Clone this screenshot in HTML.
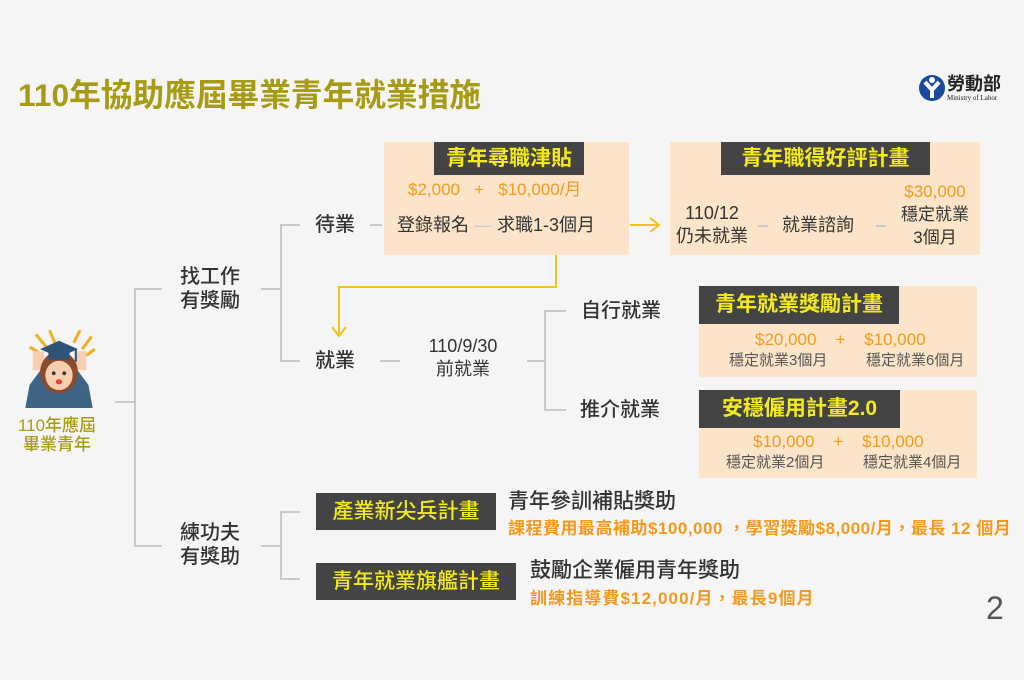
<!DOCTYPE html>
<html><head><meta charset="utf-8"><style>
*{margin:0;padding:0;box-sizing:border-box}
body{width:1024px;height:680px;background:#f5f5f5;position:relative;overflow:hidden;font-family:"Liberation Sans","Noto Sans CJK TC",sans-serif;color:#333}
.a{position:absolute;white-space:nowrap}
.t{font-size:20px;font-weight:500;line-height:24px}
.c{text-align:center}
.box{position:absolute;background:#fbe4c8}
.lab{position:absolute;background:#444;color:#f3ea1c;font-size:21px;font-weight:bold;text-align:center}
.o{color:#f39a1e}
.ln{position:absolute;background:#c9c9c9}
.s{font-size:15px;color:#555;line-height:18px}
</style></head><body>
<div class="a" style="left:18px;top:77px;font-size:31.7px;font-weight:bold;color:#a69b12;line-height:36px">110年協助應屆畢業青年就業措施</div>
<!-- logo -->
<svg class="a" style="left:918px;top:73px" width="28" height="30" viewBox="0 0 28 30"><circle cx="14" cy="15" r="13" fill="#1b4a9c"/><path d="M7 9 L14 17 L21 9" stroke="#fff" stroke-width="4" fill="none"/><rect x="12" y="16" width="4" height="9" fill="#fff"/><circle cx="14" cy="7" r="3" fill="#fff"/></svg>
<div class="a" style="left:947px;top:74px;font-size:18px;font-weight:bold;color:#222;line-height:20px">勞動部</div>
<div class="a" style="left:947px;top:94px;font-size:7px;color:#222;font-family:'Liberation Serif',serif">Ministry of Labor</div>
<!-- person -->
<svg class="a" style="left:14px;top:326px" width="90" height="82" viewBox="0 0 84 78">
<g stroke="#f2b02a" stroke-width="3"><line x1="20" y1="8" x2="30" y2="20"/><line x1="33" y1="4" x2="38" y2="16"/><line x1="14" y1="20" x2="24" y2="26"/><line x1="62" y1="4" x2="56" y2="16"/><line x1="73" y1="10" x2="64" y2="22"/><line x1="76" y1="22" x2="68" y2="28"/></g>
<path d="M14 56 L26 40 L58 40 L70 56 L74 78 L10 78 Z" fill="#3e6486"/>
<rect x="17" y="24" width="11" height="18" fill="#f7cfb0"/><rect x="57" y="24" width="11" height="18" fill="#f7cfb0"/>
<ellipse cx="42" cy="44" rx="18" ry="20" fill="#8a4b2e"/>
<ellipse cx="42" cy="47" rx="13" ry="14" fill="#f7cfb0"/>
<circle cx="37" cy="45" r="1.8" fill="#333"/><circle cx="47" cy="45" r="1.8" fill="#333"/><ellipse cx="42" cy="53" rx="3" ry="2.5" fill="#e4453b"/>
<path d="M24 22 L42 14 L60 22 L42 30 Z" fill="#2e5478"/><rect x="32" y="24" width="20" height="8" fill="#2e5478"/><line x1="58" y1="22" x2="58" y2="34" stroke="#2e5478" stroke-width="2"/>
</svg>
<div class="a c" style="left:10px;top:416px;width:94px;font-size:17px;color:#a69b12;line-height:19px;font-weight:500">110年應屆<br>畢業青年</div>
<!-- tree lines -->
<div class="ln" style="left:115px;top:401px;width:20px;height:2px"></div>
<div class="ln" style="left:134px;top:288px;width:2px;height:259px"></div>
<div class="ln" style="left:134px;top:288px;width:28px;height:2px"></div>
<div class="ln" style="left:134px;top:545px;width:28px;height:2px"></div>
<div class="a t" style="left:180px;top:265px">找工作<br>有獎勵</div>
<div class="a t" style="left:180px;top:521px">練功夫<br>有獎助</div>
<div class="ln" style="left:261px;top:288px;width:20px;height:2px"></div>
<div class="ln" style="left:280px;top:224px;width:2px;height:138px"></div>
<div class="ln" style="left:280px;top:224px;width:20px;height:2px"></div>
<div class="ln" style="left:280px;top:360px;width:20px;height:2px"></div>
<div class="a t" style="left:315px;top:213px">待業</div>
<div class="a t" style="left:315px;top:349px">就業</div>
<div class="ln" style="left:370px;top:224px;width:12px;height:2px"></div>
<!-- box1 -->
<div class="box" style="left:384px;top:142px;width:245px;height:113px"></div>
<div class="lab" style="left:434px;top:142px;width:150px;height:33px;line-height:33px">青年尋職津貼</div>
<div class="a o" style="left:408px;top:180px;font-size:17px;line-height:20px">$2,000&nbsp;&nbsp;&nbsp;+&nbsp;&nbsp;&nbsp;$10,000/月</div>
<div class="a" style="left:397px;top:214px;font-size:18px;line-height:22px">登錄報名 <span style="color:#ccc">—</span> 求職1-3個月</div>
<!-- arrow right -->
<div class="a" style="left:630px;top:224px;width:28px;height:2px;background:#f5c21a"></div>
<svg class="a" style="left:648px;top:216px" width="14" height="18"><path d="M2 2 L11 9 L2 16" stroke="#f5c21a" stroke-width="2" fill="none"/></svg>
<!-- box2 -->
<div class="box" style="left:670px;top:142px;width:310px;height:113px"></div>
<div class="lab" style="left:721px;top:142px;width:209px;height:33px;line-height:33px">青年職得好評計畫</div>
<div class="a c" style="left:672px;top:202px;width:80px;font-size:18px;line-height:23px">110/12<br>仍未就業</div>
<div class="ln" style="left:758px;top:225px;width:10px;height:2px"></div>
<div class="a" style="left:782px;top:214px;font-size:18px;line-height:22px">就業諮詢</div>
<div class="ln" style="left:876px;top:225px;width:10px;height:2px"></div>
<div class="a c" style="left:890px;top:180px;width:90px;font-size:17px;line-height:23px"><span class="o">$30,000</span><br>穩定就業<br>3個月</div>
<!-- yellow connector -->
<div class="a" style="left:555px;top:255px;width:2px;height:33px;background:#f5c21a"></div>
<div class="a" style="left:338px;top:286px;width:219px;height:2px;background:#f5c21a"></div>
<div class="a" style="left:338px;top:286px;width:2px;height:50px;background:#f5c21a"></div>
<svg class="a" style="left:330px;top:325px" width="18" height="14"><path d="M2 2 L9 11 L16 2" stroke="#f5c21a" stroke-width="2" fill="none"/></svg>
<!-- 就業 branch -->
<div class="ln" style="left:380px;top:360px;width:20px;height:2px"></div>
<div class="a c" style="left:418px;top:335px;width:90px;font-size:18px;line-height:23px">110/9/30<br>前就業</div>
<div class="ln" style="left:527px;top:360px;width:19px;height:2px"></div>
<div class="ln" style="left:544px;top:310px;width:2px;height:101px"></div>
<div class="ln" style="left:544px;top:310px;width:22px;height:2px"></div>
<div class="ln" style="left:544px;top:409px;width:22px;height:2px"></div>
<div class="a t" style="left:581px;top:299px">自行就業</div>
<div class="a t" style="left:580px;top:398px">推介就業</div>
<!-- box3 -->
<div class="box" style="left:699px;top:286px;width:278px;height:91px"></div>
<div class="lab" style="left:699px;top:286px;width:200px;height:38px;line-height:38px">青年就業獎勵計畫</div>
<div class="a o" style="left:755px;top:330px;font-size:17px;line-height:20px">$20,000&nbsp;&nbsp;&nbsp;&nbsp;+&nbsp;&nbsp;&nbsp;&nbsp;$10,000</div>
<div class="a s" style="left:729px;top:352px">穩定就業3個月</div>
<div class="a s" style="left:866px;top:352px">穩定就業6個月</div>
<!-- box4 -->
<div class="box" style="left:699px;top:390px;width:278px;height:88px"></div>
<div class="lab" style="left:699px;top:390px;width:201px;height:38px;line-height:38px">安穩僱用計畫2.0</div>
<div class="a o" style="left:753px;top:432px;font-size:17px;line-height:20px">$10,000&nbsp;&nbsp;&nbsp;&nbsp;+&nbsp;&nbsp;&nbsp;&nbsp;$10,000</div>
<div class="a s" style="left:726px;top:454px">穩定就業2個月</div>
<div class="a s" style="left:863px;top:454px">穩定就業4個月</div>
<!-- bottom -->
<div class="ln" style="left:261px;top:545px;width:20px;height:2px"></div>
<div class="ln" style="left:280px;top:511px;width:2px;height:69px"></div>
<div class="ln" style="left:280px;top:511px;width:20px;height:2px"></div>
<div class="ln" style="left:280px;top:578px;width:20px;height:2px"></div>
<div class="lab" style="left:316px;top:493px;width:180px;height:37px;line-height:37px;font-weight:500">產業新尖兵計畫</div>
<div class="a t" style="left:508px;top:490px;font-size:21px">青年參訓補貼獎助</div>
<div class="a o" style="left:508px;top:518px;font-size:17px;font-weight:bold;line-height:22px;letter-spacing:0.5px">課程費用最高補助$100,000 ，學習獎勵$8,000/月，最長 12 個月</div>
<div class="lab" style="left:316px;top:563px;width:200px;height:37px;line-height:37px;font-weight:500">青年就業旗艦計畫</div>
<div class="a t" style="left:530px;top:559px;font-size:21px">鼓勵企業僱用青年獎助</div>
<div class="a o" style="left:530px;top:588px;font-size:17px;font-weight:bold;line-height:22px;letter-spacing:1.1px">訓練指導費$12,000/月，最長9個月</div>
<div class="a" style="left:986px;top:590px;font-size:32px;color:#555;line-height:36px">2</div>
</body></html>
